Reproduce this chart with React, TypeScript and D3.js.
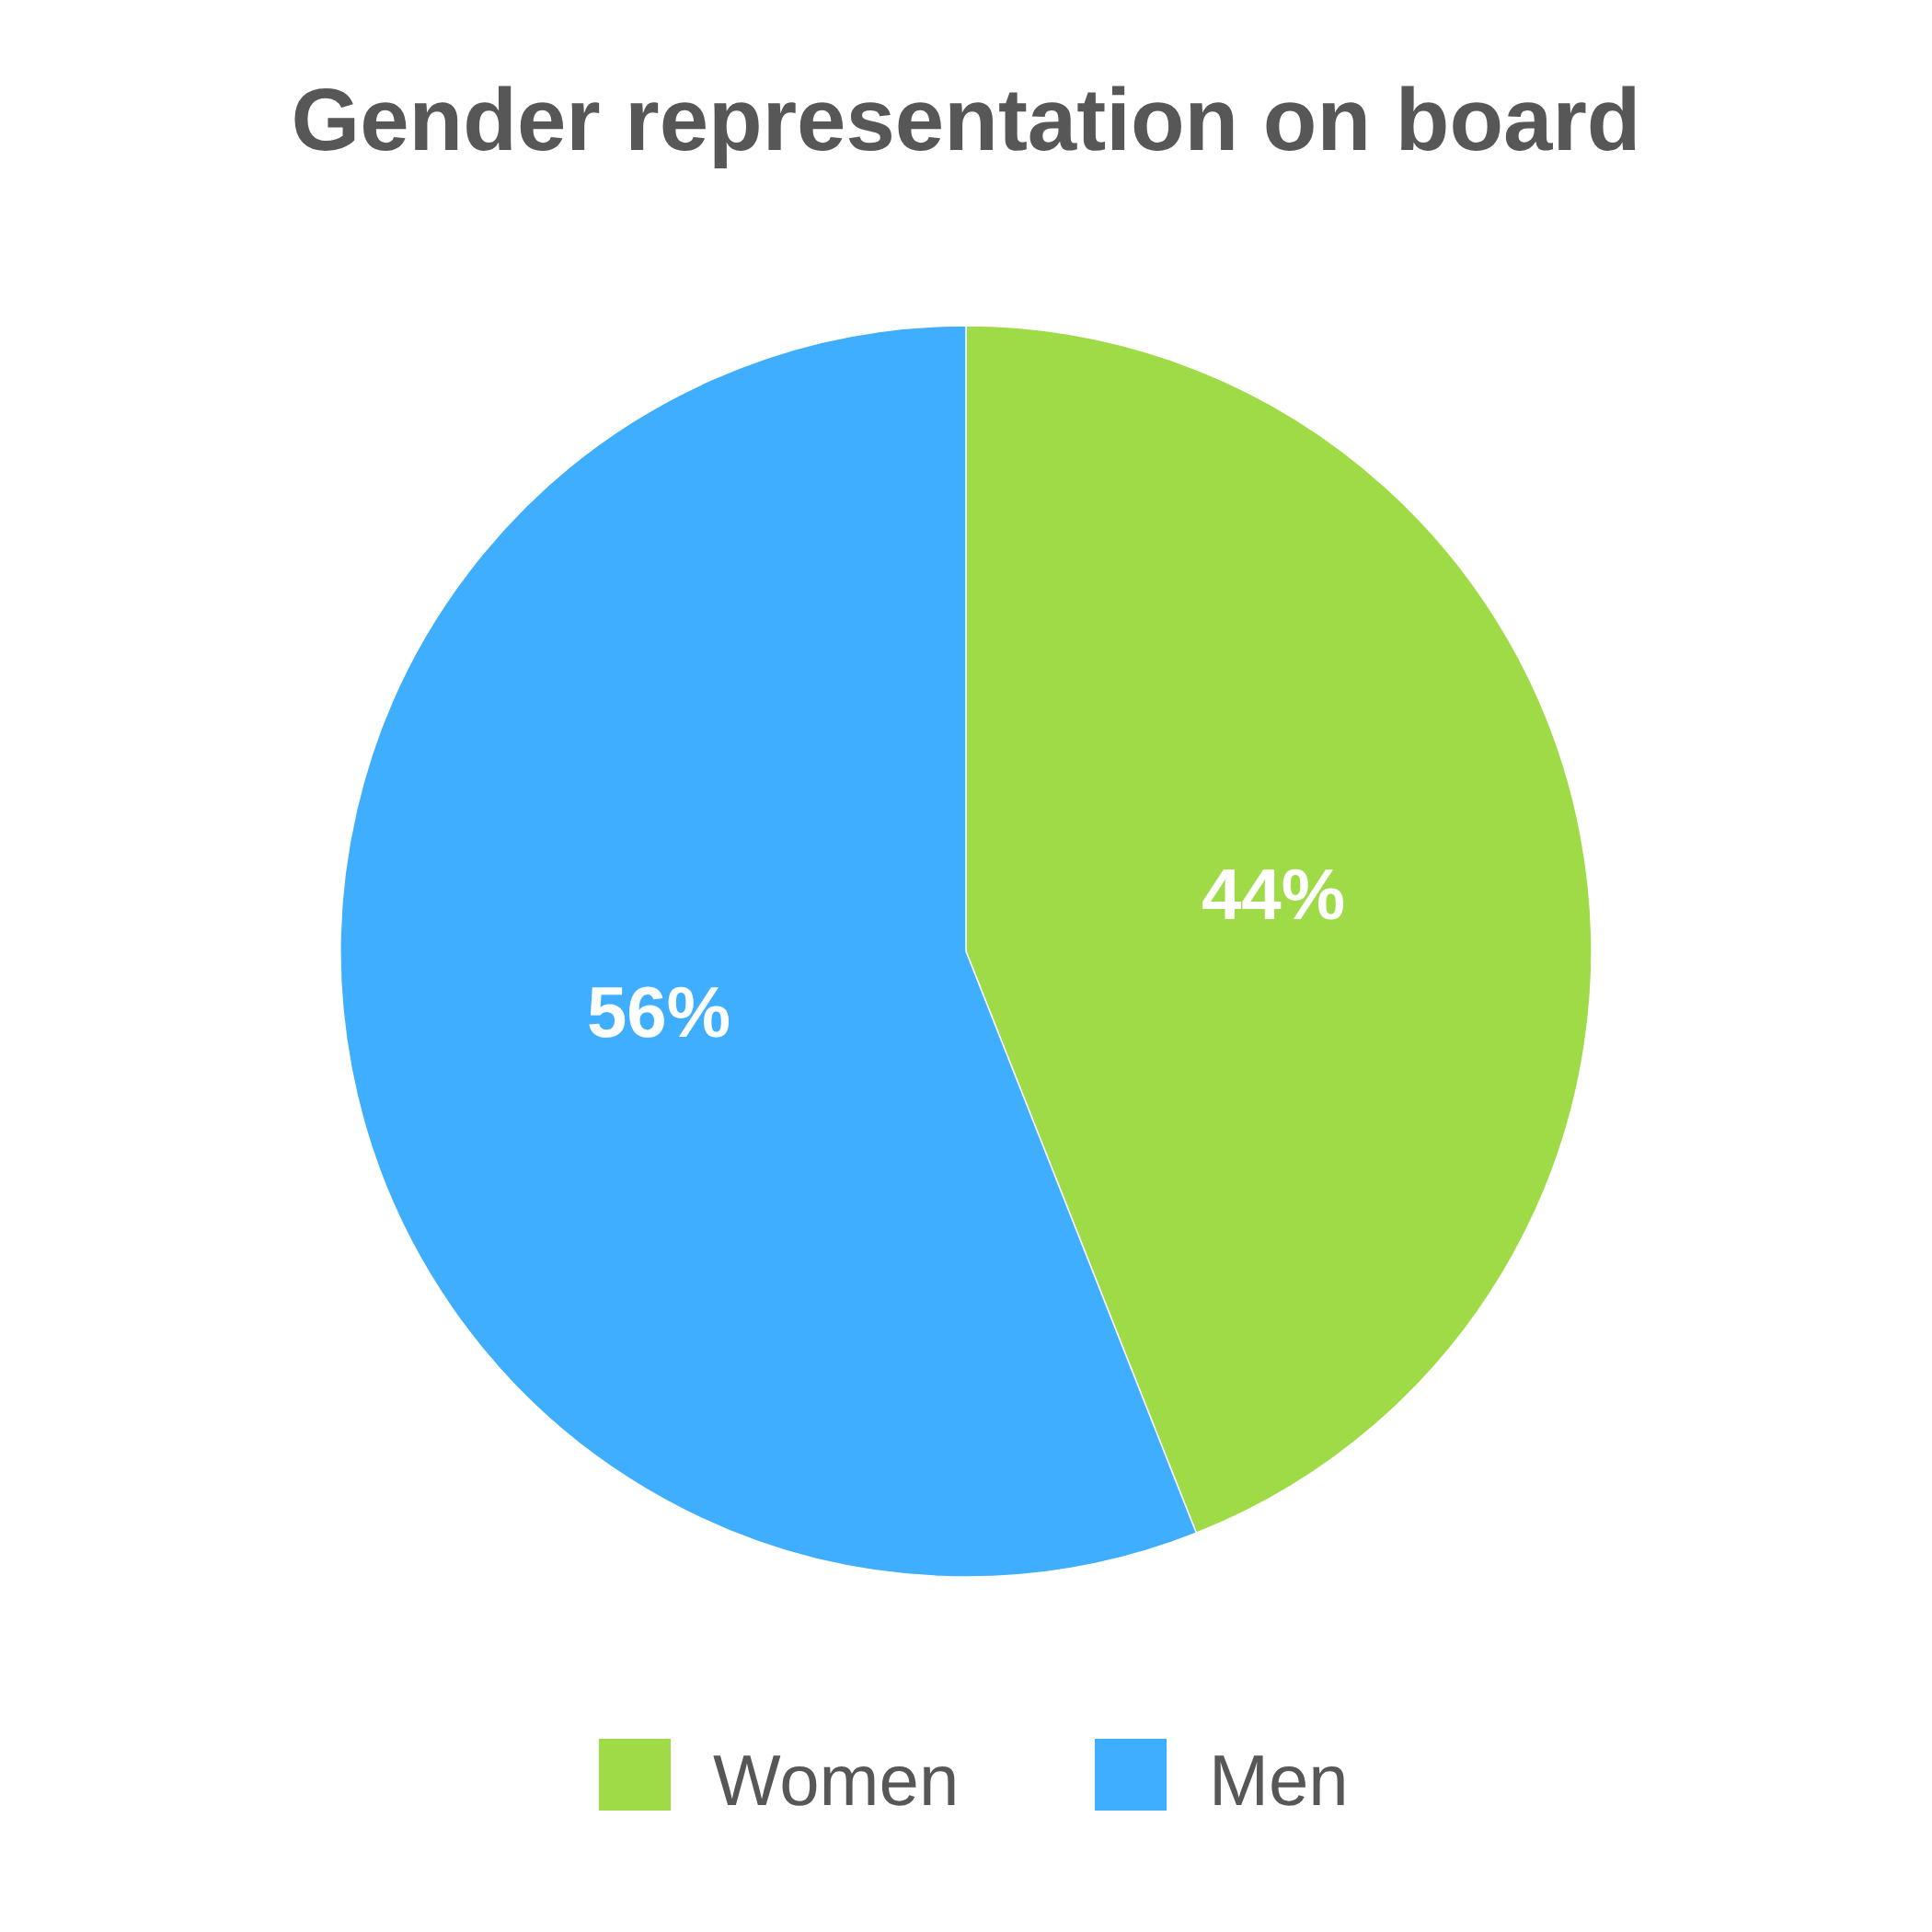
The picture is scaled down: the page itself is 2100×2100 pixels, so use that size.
import React from "react";
import * as d3 from "d3";

const categories = ["Women", "Men"];
const values = [44, 56];
const colors = ["#9edb46", "#40aeff"];
const titleText = "Gender representation on board";

export default function App() {
  const W = 2100, H = 2100;
  const cx = 1050, cy = 1034, R = 680;
  const pie = d3.pie<number>().sort(null).value((d) => d)(values);
  const arc = d3.arc<d3.PieArcDatum<number>>().innerRadius(0).outerRadius(R);
  const labelArc = d3.arc<d3.PieArcDatum<number>>().innerRadius(340).outerRadius(340);
  const total = d3.sum(values);
  const legendX = [651, 1190];
  const font = "'Liberation Sans', Arial, Helvetica, sans-serif";
  return (
    <svg width={W} height={H} textRendering="geometricPrecision" style={{ position: "absolute", left: 0, top: 0, background: "#fff" }}>
      <rect width={W} height={H} fill="#fff" />
      <text x={1050} y={163} textAnchor="middle" fontFamily={font} fontWeight="bold" fontSize={96} fill="#575757">{titleText}</text>
      <g transform={`translate(${cx},${cy})`}>
        {pie.map((p, i) => (
          <path key={i} d={arc(p) || ""} fill={colors[i]} stroke="#fff" strokeWidth={1.5} />
        ))}
        {pie.map((p, i) => {
          const [x, y] = labelArc.centroid(p);
          return (
            <text key={"l" + i} x={x} y={y + 29} textAnchor="middle" fontFamily={font} fontWeight="bold" fontSize={78} fill="#fff">
              {Math.round((values[i] / total) * 100)}%
            </text>
          );
        })}
      </g>
      {categories.map((c, i) => (
        <g key={c}>
          <rect x={legendX[i]} y={1890} width={78} height={78} fill={colors[i]} />
          <text x={legendX[i] + 124} y={1962} fontFamily={font} fontSize={78} fill="#575757">{c}</text>
        </g>
      ))}
    </svg>
  );
}
